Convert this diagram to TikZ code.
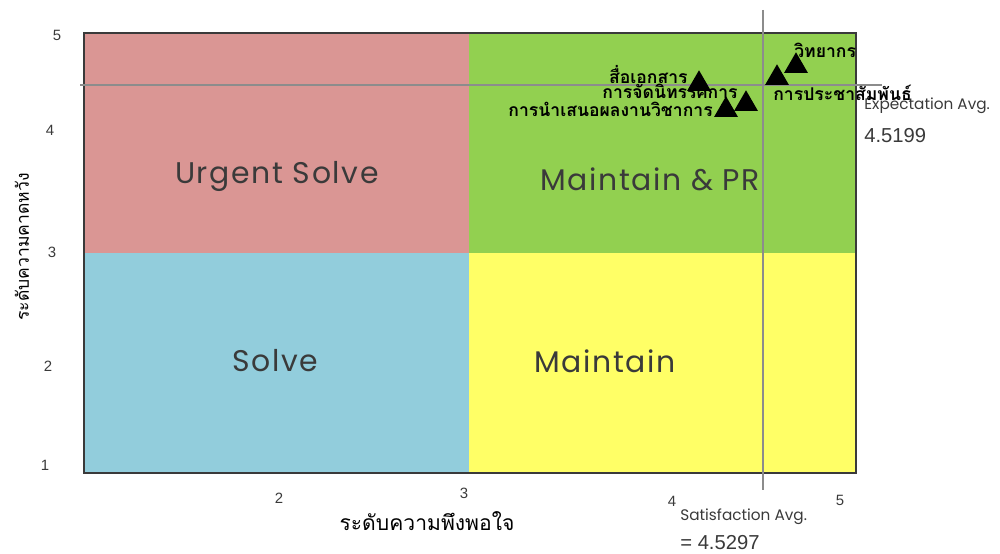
\documentclass[tikz,border=0pt]{standalone}
\usepackage{fontspec}
\setmainfont{Poppins}
\newfontfamily\thaifont[Script=Thai]{Loma}
\newfontfamily\numfont{Liberation Sans}
\newfontfamily\quadfont[LetterSpace=5.5]{Poppins}
\usetikzlibrary{shapes.geometric}
\definecolor{urgentred}{HTML}{DA9694}
\definecolor{prgreen}{HTML}{92D050}
\definecolor{solveblue}{HTML}{92CDDC}
\definecolor{keepyellow}{HTML}{FFFF66}
\definecolor{avggray}{HTML}{8C8C8C}
\definecolor{labelgray}{HTML}{3A3A3A}

\begin{document}
\begin{tikzpicture}[x=0.02cm,y=-0.02cm,
  quad/.style={font=\quadfont\fontsize{17}{20}\selectfont,text=labelgray},
  tick/.style={font=\numfont\fontsize{8.5}{10}\selectfont,text=labelgray},
  item/.style={font=\thaifont\bfseries\fontsize{10}{12}\selectfont,inner sep=0pt},
  axlabel/.style={font=\thaifont\fontsize{12}{14}\selectfont},
  pt/.style={regular polygon,regular polygon sides=3,fill=black,inner sep=0pt,minimum size=0.55cm},
  avgline/.style={avggray,line width=1.6pt},
  note/.style={font=\fontsize{8.7}{10}\selectfont,text=labelgray,anchor=west,inner sep=0pt},
  value/.style={font=\numfont\fontsize{11.5}{14}\selectfont,text=labelgray,anchor=west,inner sep=0pt}]
\useasboundingbox (0,0) rectangle (1000,554);
% quadrants
\fill[urgentred] (84,33) rectangle (469,253);
\fill[prgreen] (469,33) rectangle (856,253);
\fill[solveblue] (84,253) rectangle (469,473);
\fill[keepyellow] (469,253) rectangle (856,473);
\draw[labelgray,line width=0.8pt] (84,33) rectangle (856,473);
\node[quad] (urgent) at (277,176) {Urgent Solve};
\node[quad] (keeppr) at (650,179) {Maintain \& PR};
\node[quad] (solve) at (275,361) {Solve};
\node[quad] (keep) at (605,361) {Maintain};
% ticks
\node[tick] (y5) at (57,35) {5};
\node[tick] (y4) at (50,130) {4};
\node[tick] (y3) at (52,252) {3};
\node[tick] (y2) at (48,366) {2};
\node[tick] (y1) at (45,465) {1};
\node[tick] (x2) at (279,498) {2};
\node[tick] (x3) at (464,493) {3};
\node[tick] (x4) at (672,501) {4};
\node[tick] (x5) at (840,500) {5};
\node[axlabel] (xlab) at (427,521) {ระดับความพึงพอใจ};
\node[axlabel,font=\thaifont\fontsize{10}{12}\selectfont,rotate=90] (ylab) at (22,247) {ระดับความคาดหวัง};
% average lines
\coordinate (satTop) at (763,10);
\coordinate (satBot) at (763,490);
\coordinate (expL) at (80,85);
\coordinate (expR) at (882,85);
\draw[avgline] (satTop) -- (satBot);
\draw[avgline] (expL) -- (expR);
\node[note] (satnote) at (680,517) {Satisfaction Avg.};
\node[value] (satval) at (680,543) {= 4.5297};
\node[note] (expnote) at (864,106) {Expectation Avg.};
\node[value] (expval) at (864,136) {4.5199};
% items
\node[pt] (lecturer) at (796,66) {};
\node[pt] (publicity) at (777,78) {};
\node[pt] (docs) at (699,84) {};
\node[pt] (expo) at (746,104) {};
\node[pt] (present) at (726,110) {};
\node[item,anchor=west] (lecturerlab) at (794,50) {วิทยากร};
\node[item,anchor=west] (publicitylab) at (773,93) {การประชาสัมพันธ์};
\node[item,anchor=east] (docslab) at (688,75) {สื่อเอกสาร};
\node[item,anchor=east] (expolab) at (738,91) {การจัดนิทรรศการ};
\node[item,anchor=east] (presentlab) at (713,109) {การนำเสนอผลงานวิชาการ};
\end{tikzpicture}
\end{document}
